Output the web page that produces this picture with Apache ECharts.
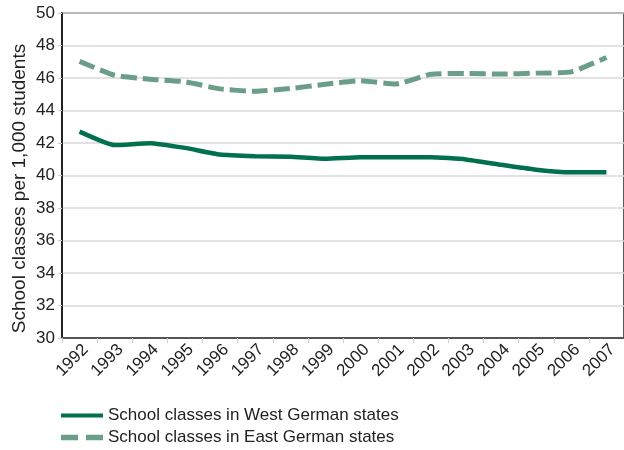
<!DOCTYPE html>
<html>
<head>
<meta charset="utf-8">
<style>html,body{margin:0;padding:0;background:#fff;}#c{width:624px;height:450px;}</style>
<script src="https://cdn.jsdelivr.net/npm/echarts@6/dist/echarts.min.js"></script>
</head>
<body>
<div id="c"></div>
<script>
const years = ['1992','1993','1994','1995','1996','1997','1998','1999','2000','2001','2002','2003','2004','2005','2006','2007'];
const westValues = [42.7, 41.87, 41.99, 41.7, 41.29, 41.19, 41.15, 41.03, 41.13, 41.13, 41.13, 40.99, 40.66, 40.36, 40.2, 40.2];
const eastValues = [47.02, 46.17, 45.93, 45.77, 45.33, 45.18, 45.35, 45.62, 45.83, 45.63, 46.23, 46.28, 46.24, 46.3, 46.38, 47.26];
const westName = 'School classes in West German states';
const eastName = 'School classes in East German states';
const yAxisName = 'School classes per 1,000 students';

const font = 'Liberation Sans, Arial, Helvetica, sans-serif';
const legendText = {fontFamily: font, fontSize: 17, color: '#222'};
const chart = echarts.init(document.getElementById('c'), null, {renderer: 'canvas'});
chart.setOption({
  animation: false,
  backgroundColor: '#fff',
  grid: {left: 62, top: 13, width: 572, height: 325, show: true, borderColor: '#222', borderWidth: 1.5, backgroundColor: 'transparent'},
  legend: [
    {left: 61, top: 407, itemWidth: 42, itemHeight: 10, padding: 0, textStyle: legendText,
     data: [{name: westName, icon: 'path://M0,3H42V7H0Z'}]},
    {left: 61, top: 429, itemWidth: 42, itemHeight: 10, padding: 0, textStyle: legendText,
     data: [{name: eastName, icon: 'path://M0,2.5H15V7.5H0ZM22,2.5H37V7.5H22Z'}]}
  ],
  xAxis: {
    type: 'category', data: years, boundaryGap: true,
    axisLine: {lineStyle: {color: '#555', width: 2}},
    axisTick: {show: true, length: 5, lineStyle: {color: '#ccc', width: 1}},
    axisLabel: {rotate: 45, fontFamily: font, fontSize: 17, color: '#222', margin: 3, verticalAlign: 'top', interval: 0},
    splitLine: {show: false}
  },
  yAxis: {
    type: 'value', min: 30, max: 50, interval: 2,
    name: yAxisName, nameLocation: 'middle', nameGap: 33, nameMoveOverlap: false,
    nameTextStyle: {fontFamily: font, fontSize: 19, color: '#222', padding: [0, 26, 0, 0]},
    axisLine: {show: true, lineStyle: {color: '#111', width: 1.5}},
    axisTick: {show: true, length: 4, lineStyle: {color: '#ccc'}},
    axisLabel: {fontFamily: font, fontSize: 17, color: '#222', margin: 7},
    splitLine: {lineStyle: {color: '#d9d9d9', width: 1.5}}
  },
  series: [
    {name: westName, type: 'line', data: westValues, symbol: 'none', smooth: 0.15,
     itemStyle: {color: '#00704f'}, lineStyle: {color: '#00704f', width: 4.5}},
    {name: eastName, type: 'line', data: eastValues, symbol: 'none', smooth: 0.15,
     itemStyle: {color: '#6a9e88'}, lineStyle: {color: '#6a9e88', width: 5, type: [16, 6]}}
  ]
});
</script>
</body>
</html>
